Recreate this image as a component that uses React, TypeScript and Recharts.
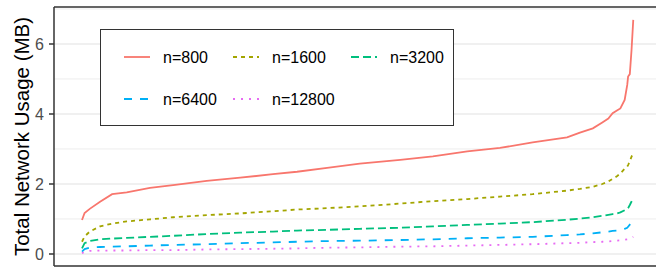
import React from "react";
import {
  LineChart,
  Line,
  XAxis,
  YAxis,
  CartesianGrid,
  ReferenceLine,
  Legend,
} from "recharts";

// node rank (sorted by usage)
const ranks = [
  0, 3, 9, 21, 35, 52, 79, 106, 145, 184, 222, 250, 285, 323, 370, 408, 448,
  486, 524, 564, 579, 594, 605, 612, 617, 622, 626, 631, 634, 635, 637, 639, 641,
];

const n800 = [
  0.97, 1.17, 1.29, 1.49, 1.71, 1.76, 1.89, 1.97, 2.09, 2.18, 2.28, 2.35, 2.46,
  2.58, 2.69, 2.79, 2.93, 3.03, 3.19, 3.33, 3.47, 3.59, 3.76, 3.87, 4.02, 4.1,
  4.16, 4.4, 4.83, 5.07, 5.14, 5.83, 6.69,
];
const n1600 = [
  0.35, 0.5, 0.64, 0.79, 0.87, 0.93, 0.99, 1.05, 1.11, 1.16, 1.22, 1.27, 1.31,
  1.36, 1.44, 1.51, 1.57, 1.64, 1.71, 1.81, 1.86, 1.92, 2.0, 2.07, 2.15, 2.22,
  2.3, 2.44, 2.5, 2.54, 2.65, 2.78, 2.88,
];
const n3200 = [
  0.16, 0.31, 0.37, 0.42, 0.44, 0.46, 0.49, 0.52, 0.57, 0.61, 0.64, 0.67, 0.69,
  0.72, 0.75, 0.79, 0.83, 0.87, 0.91, 0.98, 1.01, 1.05, 1.09, 1.12, 1.14, 1.16,
  1.19, 1.25, 1.29, 1.31, 1.4, 1.5, 1.59,
];
const n6400 = [
  0.07, 0.14, 0.18, 0.2, 0.21, 0.22, 0.24, 0.26, 0.28, 0.31, 0.33, 0.35, 0.37,
  0.38, 0.4, 0.42, 0.45, 0.47, 0.49, 0.54, 0.56, 0.59, 0.62, 0.64, 0.66, 0.67,
  0.68, 0.72, 0.75, 0.78, 0.84, 0.9, 0.97,
];
const n12800 = [
  0.02, 0.07, 0.09, 0.095, 0.1, 0.1, 0.11, 0.11, 0.13, 0.14, 0.15, 0.16, 0.18,
  0.19, 0.21, 0.22, 0.24, 0.26, 0.28, 0.31, 0.32, 0.34, 0.35, 0.36, 0.37, 0.38,
  0.39, 0.41, 0.42, 0.43, 0.45, 0.47, 0.49,
];

const seriesNames = ["n=800", "n=1600", "n=3200", "n=6400", "n=12800"];
const seriesValues = [n800, n1600, n3200, n6400, n12800];
const seriesColors = ["#F8766D", "#A3A500", "#00BF7D", "#00B0F6", "#E76BF3"];
const seriesDash = ["", "4 4", "8 4", "8 8", "2 6"];

const yTicks = [0, 2, 4, 6];
const yMinorTicks = [1, 3, 5, 7];
const xTicks = [0, 250, 500];
const xMinorTicks = [125, 375, 625];

const data = ranks.map((r, i) => {
  const row: Record<string, number> = { rank: r };
  seriesNames.forEach((name, s) => {
    row[name] = seriesValues[s][i];
  });
  return row;
});

const FONT = "'Liberation Sans', Arial, Helvetica, sans-serif";

const Y_MIN = -0.3429;
const Y_MAX = 7.0571;
const X_MIN = -32.56;
const X_MAX = 695.35;

const legendLayout = [
  { col: 0, row: 0 },
  { col: 1, row: 0 },
  { col: 2, row: 0 },
  { col: 0, row: 1 },
  { col: 1, row: 1 },
];
const colKeyX = [24, 133, 251];
const rowY = [28, 70];

const LegendBox = () => (
  <svg width={354} height={97} style={{ display: "block" }}>
    <rect x={0.5} y={0.5} width={353} height={96} fill="#FFFFFF" stroke="#333333" strokeWidth={1} />
    {seriesNames.map((name, i) => {
      const { col, row } = legendLayout[i];
      const kx = colKeyX[col];
      const ky = rowY[row];
      return (
        <g key={name}>
          <line
            x1={kx}
            x2={kx + 26}
            y1={ky}
            y2={ky}
            stroke={seriesColors[i]}
            strokeWidth={1.8}
            strokeDasharray={seriesDash[i] || undefined}
          />
          <text x={kx + 39} y={ky + 5.8} fontSize={16} fontFamily={FONT} fill="#000000">
            {name}
          </text>
        </g>
      );
    })}
  </svg>
);

const YTitle = (props: any) => {
  const vb = props.viewBox || { x: 0, y: 7, height: 259 };
  const cx = vb.x + 29;
  const cy = vb.y + vb.height / 2;
  return (
    <text
      x={cx}
      y={cy}
      transform={`rotate(-90, ${cx}, ${cy})`}
      textAnchor="middle"
      fontSize={20.5}
      fontFamily={FONT}
      fill="#000000"
    >
      Total Network Usage (MB)
    </text>
  );
};

export default function App() {
  return (
    <div
      style={{
        position: "fixed",
        left: 0,
        top: 0,
        width: 656,
        height: 269,
        overflow: "hidden",
        background: "#FFFFFF",
      }}
    >
      <LineChart
        width={680}
        height={286}
        data={data}
        margin={{ top: 7, right: 0, bottom: 0, left: 0 }}
      >
        <CartesianGrid
          horizontalValues={yMinorTicks}
          verticalValues={xMinorTicks}
          stroke="#EBEBEB"
          strokeWidth={0.9}
        />
        <CartesianGrid
          horizontalValues={yTicks}
          verticalValues={xTicks}
          stroke="#EBEBEB"
          strokeWidth={1.6}
        />
        <XAxis
          type="number"
          dataKey="rank"
          domain={[X_MIN, X_MAX]}
          allowDataOverflow
          ticks={xTicks}
          tick={false}
          tickSize={5}
          height={20}
          axisLine={{ stroke: "#333333", strokeWidth: 1.5 }}
          tickLine={{ stroke: "#333333", strokeWidth: 1.5 }}
        />
        <YAxis
          type="number"
          domain={[Y_MIN, Y_MAX]}
          allowDataOverflow
          ticks={yTicks}
          width={54}
          tickSize={5}
          tickMargin={5}
          axisLine={{ stroke: "#333333", strokeWidth: 1.5 }}
          tickLine={{ stroke: "#333333", strokeWidth: 1.5 }}
          tick={{ fill: "#4D4D4D", fontSize: 16, fontFamily: FONT }}
          label={<YTitle />}
        />
        <ReferenceLine y={Y_MAX} stroke="#333333" strokeWidth={1.5} ifOverflow="extendDomain" />
        {seriesNames.map((name, i) => (
          <Line
            key={name}
            type="linear"
            dataKey={name}
            stroke={seriesColors[i]}
            strokeWidth={1.8}
            strokeDasharray={seriesDash[i] || undefined}
            dot={false}
            activeDot={false}
            isAnimationActive={false}
          />
        ))}
        <Legend
          layout="horizontal"
          verticalAlign="middle"
          align="center"
          content={() => <LegendBox />}
          wrapperStyle={{ left: 100, top: 29, width: 354, height: 97 }}
        />
      </LineChart>
    </div>
  );
}
